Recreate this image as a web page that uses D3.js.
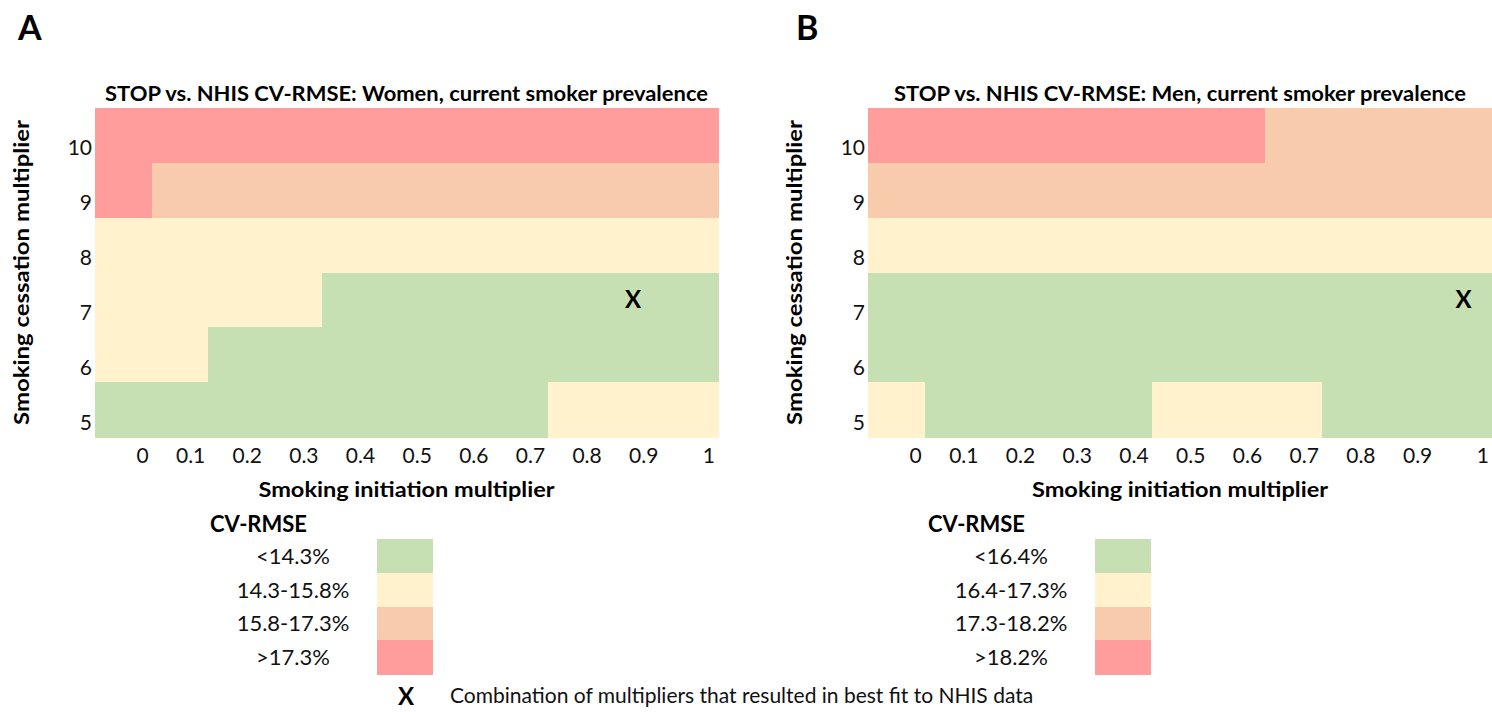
<!DOCTYPE html>
<html>
<head>
<meta charset="utf-8">
<script src="https://cdn.jsdelivr.net/npm/d3@7"></script>
<style>
  body { margin: 0; background: #fff; }
  svg { display: block; font-family: Lato, 'Open Sans', sans-serif; }
</style>
</head>
<body>
<svg id="chart" width="1492" height="712"></svg>
<script>
// grid axes
var initiation = ['0', '0.1', '0.2', '0.3', '0.4', '0.5', '0.6', '0.7', '0.8', '0.9', '1'];
var cessation = [10, 9, 8, 7, 6, 5];

// CV-RMSE class per cell (0 = best ... 3 = worst), rows follow cessation, cols follow initiation
var womenLevels = [
  [3, 3, 3, 3, 3, 3, 3, 3, 3, 3, 3],
  [3, 2, 2, 2, 2, 2, 2, 2, 2, 2, 2],
  [1, 1, 1, 1, 1, 1, 1, 1, 1, 1, 1],
  [1, 1, 1, 1, 0, 0, 0, 0, 0, 0, 0],
  [1, 1, 0, 0, 0, 0, 0, 0, 0, 0, 0],
  [0, 0, 0, 0, 0, 0, 0, 0, 1, 1, 1]
];
var menLevels = [
  [3, 3, 3, 3, 3, 3, 3, 2, 2, 2, 2],
  [2, 2, 2, 2, 2, 2, 2, 2, 2, 2, 2],
  [1, 1, 1, 1, 1, 1, 1, 1, 1, 1, 1],
  [0, 0, 0, 0, 0, 0, 0, 0, 0, 0, 0],
  [0, 0, 0, 0, 0, 0, 0, 0, 0, 0, 0],
  [1, 0, 0, 0, 0, 1, 1, 1, 0, 0, 0]
];

// best fit combination
var womenBest = { x: '0.9', y: 7 };
var menBest = { x: '1', y: 7 };

var womenBins = ['<14.3%', '14.3-15.8%', '15.8-17.3%', '>17.3%'];
var menBins = ['<16.4%', '16.4-17.3%', '17.3-18.2%', '>18.2%'];

var levelColors = ['#c6e0b4', '#fff2cc', '#f8cbad', '#ff9d9d'];

var noteText = 'Combination of multipliers that resulted in best fit to NHIS data';

var panels = [
  { label: 'A', title: 'STOP vs. NHIS CV-RMSE: Women, current smoker prevalence',
    levels: womenLevels, best: womenBest, bins: womenBins,
    x0: 95, x1: 718, labelX: 18, titleLen: 603, legendX: 377 },
  { label: 'B', title: 'STOP vs. NHIS CV-RMSE: Men, current smoker prevalence',
    levels: menLevels, best: menBest, bins: menBins,
    x0: 868, x1: 1492, labelX: 796, titleLen: 572, legendX: 1095 }
];

var y0 = 108, y1 = 437;
var svg = d3.select('#chart');

panels.forEach(function (p) {
  var x = d3.scaleBand().domain(initiation).range([p.x0, p.x1]);
  var y = d3.scaleBand().domain(cessation).range([y0, y1]);
  var mid = (p.x0 + p.x1) / 2;

  svg.append('text')
    .attr('x', p.labelX).attr('y', 40)
    .style('font-size', '34px').style('font-weight', 700)
    .text(p.label);

  svg.append('text')
    .attr('x', mid).attr('y', 101)
    .attr('text-anchor', 'middle')
    .attr('textLength', p.titleLen).attr('lengthAdjust', 'spacingAndGlyphs')
    .style('font-size', '20px').style('font-weight', 700)
    .text(p.title);

  var cells = [];
  p.levels.forEach(function (row, i) {
    row.forEach(function (lv, j) {
      cells.push({ cx: initiation[j], cy: cessation[i], lv: lv });
    });
  });

  svg.append('g')
    .selectAll('rect')
    .data(cells)
    .enter()
    .append('rect')
    .attr('x', function (d) { return x(d.cx); })
    .attr('y', function (d) { return y(d.cy); })
    .attr('width', x.bandwidth() + 0.5)
    .attr('height', y.bandwidth() + 0.5)
    .attr('fill', function (d) { return levelColors[d.lv]; })
    .attr('shape-rendering', 'crispEdges');

  svg.append('text')
    .attr('x', x(p.best.x) + x.bandwidth() / 2)
    .attr('y', y(p.best.y) + y.bandwidth() / 2 + 8)
    .attr('text-anchor', 'middle')
    .style('font-size', '24px').style('font-weight', 700)
    .text('X');

  var xAx = svg.append('g')
    .attr('transform', 'translate(0,' + y1 + ')')
    .call(d3.axisBottom(x).tickSize(0));
  xAx.select('.domain').remove();
  xAx.attr('font-family', null).attr('font-size', null);
  xAx.selectAll('text')
    .attr('text-anchor', 'end')
    .attr('x', x.bandwidth() / 2 - 3)
    .attr('y', 26).attr('dy', 0)
    .attr('fill', '#111')
    .style('font-size', '21px');

  var yAx = svg.append('g')
    .attr('transform', 'translate(' + p.x0 + ',0)')
    .call(d3.axisLeft(y).tickSize(0));
  yAx.select('.domain').remove();
  yAx.attr('font-family', null).attr('font-size', null);
  yAx.selectAll('text')
    .attr('x', -3)
    .attr('y', 20).attr('dy', 0)
    .attr('fill', '#111')
    .style('font-size', '21px');

  svg.append('text')
    .attr('x', mid).attr('y', 497)
    .attr('text-anchor', 'middle')
    .attr('textLength', 296).attr('lengthAdjust', 'spacingAndGlyphs')
    .style('font-size', '21px').style('font-weight', 700)
    .text('Smoking initiation multiplier');

  svg.append('text')
    .attr('transform', 'translate(' + (p.x0 - 66) + ',' + ((y0 + y1) / 2) + ') rotate(-90)')
    .attr('text-anchor', 'middle')
    .attr('textLength', 305).attr('lengthAdjust', 'spacingAndGlyphs')
    .style('font-size', '21px').style('font-weight', 700)
    .text('Smoking cessation multiplier');

  // legend
  var ly = d3.scaleBand().domain(d3.range(p.bins.length)).range([539, 674]);
  var lg = svg.append('g');

  lg.append('text')
    .attr('x', p.legendX - 167).attr('y', 532)
    .style('font-size', '22px').style('font-weight', 700)
    .text('CV-RMSE');

  lg.selectAll('rect')
    .data(p.bins)
    .enter()
    .append('rect')
    .attr('x', p.legendX)
    .attr('y', function (d, i) { return ly(i); })
    .attr('width', 56)
    .attr('height', ly.bandwidth() + 0.5)
    .attr('fill', function (d, i) { return levelColors[i]; })
    .attr('shape-rendering', 'crispEdges');

  lg.selectAll('text.bin')
    .data(p.bins)
    .enter()
    .append('text')
    .attr('class', 'bin')
    .attr('x', p.legendX - 84)
    .attr('y', function (d, i) { return ly(i) + ly.bandwidth() / 2 + 8; })
    .attr('text-anchor', 'middle')
    .attr('fill', '#111')
    .style('font-size', '22px')
    .text(function (d) { return d; });
});

// best-fit note
svg.append('text')
  .attr('x', 406).attr('y', 705)
  .attr('text-anchor', 'middle')
  .style('font-size', '24px').style('font-weight', 700)
  .text('X');

svg.append('text')
  .attr('x', 450).attr('y', 703)
  .attr('fill', '#111')
  .style('font-size', '21px')
  .text(noteText);
</script>
</body>
</html>
